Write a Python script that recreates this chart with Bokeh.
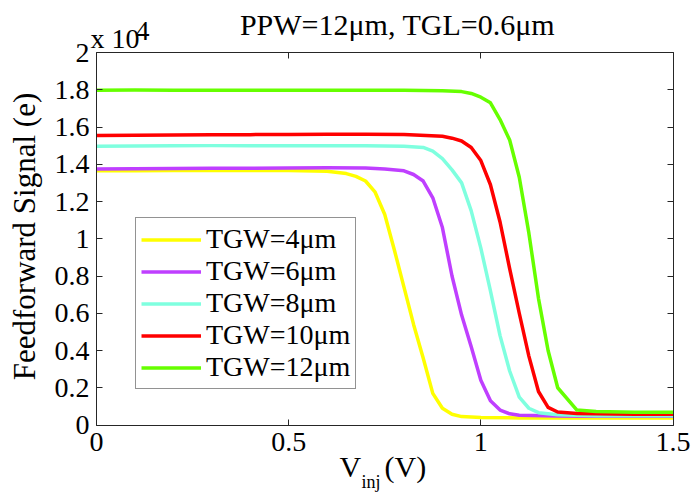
import math
from bokeh.plotting import figure
from bokeh.models import Range1d, LinearAxis, FixedTicker, Label, Legend, LegendItem
from bokeh.embed import file_html
from bokeh.resources import INLINE

# ---------------- data (values in units of 10^4 e) ----------------
title_text = "PPW=12\u03bcm, TGL=0.6\u03bcm"
x_label_main = "V"
x_label_sub = "inj"
x_label_unit = "(V)"
y_label = "Feedforward Signal (e)"
multiplier_base = "x 10"
multiplier_exp = "4"

x_lim = (0, 1.5)
y_lim = (0, 2)
x_ticks = [0, 0.5, 1, 1.5]
x_tick_labels = ["0", "0.5", "1", "1.5"]
y_ticks = [0, 0.2, 0.4, 0.6, 0.8, 1, 1.2, 1.4, 1.6, 1.8, 2]
y_tick_labels = ["0", "0.2", "0.4", "0.6", "0.8", "1", "1.2", "1.4", "1.6", "1.8", "2"]

series_names = ["TGW=4\u03bcm", "TGW=6\u03bcm", "TGW=8\u03bcm", "TGW=10\u03bcm", "TGW=12\u03bcm"]
series_colors = ["#ffff00", "#bf3fff", "#7fffdf", "#ff0000", "#66ff00"]

tgw4_x = [0, 0.1, 0.2, 0.3, 0.4, 0.5, 0.6, 0.65, 0.675, 0.7, 0.725, 0.75, 0.775, 0.8,
          0.825, 0.85, 0.875, 0.9, 0.925, 0.95, 1.0, 1.1, 1.2, 1.3, 1.4, 1.5]
tgw4_y = [1.365, 1.365, 1.366, 1.366, 1.366, 1.366, 1.362, 1.35, 1.335, 1.31, 1.25, 1.13,
          0.94, 0.74, 0.54, 0.36, 0.17, 0.09, 0.058, 0.045, 0.04, 0.038, 0.038, 0.038, 0.038, 0.038]

tgw6_x = [0, 0.1, 0.2, 0.3, 0.4, 0.5, 0.6, 0.7, 0.75, 0.8, 0.825, 0.85, 0.875, 0.9, 0.925,
          0.95, 0.975, 1.0, 1.025, 1.05, 1.075, 1.1, 1.2, 1.3, 1.4, 1.5]
tgw6_y = [1.375, 1.376, 1.377, 1.378, 1.379, 1.38, 1.381, 1.38, 1.375, 1.365, 1.345, 1.31,
          1.22, 1.06, 0.80, 0.59, 0.42, 0.24, 0.13, 0.08, 0.06, 0.052, 0.048, 0.047, 0.047, 0.047]

tgw8_x = [0, 0.1, 0.2, 0.3, 0.4, 0.5, 0.6, 0.7, 0.8, 0.85, 0.875, 0.9, 0.925, 0.95, 0.975,
          1.0, 1.025, 1.05, 1.075, 1.1, 1.125, 1.15, 1.2, 1.3, 1.4, 1.5]
tgw8_y = [1.497, 1.498, 1.499, 1.5, 1.5, 1.5, 1.5, 1.5, 1.497, 1.49, 1.47, 1.43, 1.37, 1.30,
          1.15, 0.95, 0.72, 0.48, 0.29, 0.15, 0.09, 0.066, 0.055, 0.05, 0.05, 0.05]

tgw10_x = [0, 0.1, 0.2, 0.3, 0.4, 0.5, 0.6, 0.7, 0.8, 0.9, 0.925, 0.95, 0.975, 1.0, 1.025,
           1.05, 1.075, 1.1, 1.125, 1.15, 1.175, 1.2, 1.25, 1.3, 1.4, 1.5]
tgw10_y = [1.555, 1.556, 1.557, 1.558, 1.559, 1.56, 1.561, 1.561, 1.56, 1.55, 1.54, 1.525,
           1.49, 1.42, 1.29, 1.09, 0.84, 0.60, 0.37, 0.18, 0.095, 0.07, 0.062, 0.06, 0.058, 0.058]

tgw12_x = [0, 0.1, 0.2, 0.3, 0.4, 0.5, 0.6, 0.7, 0.8, 0.9, 0.95, 0.975, 1.0, 1.025, 1.05,
           1.075, 1.1, 1.125, 1.15, 1.175, 1.2, 1.25, 1.3, 1.4, 1.5]
tgw12_y = [1.797, 1.798, 1.797, 1.797, 1.797, 1.797, 1.797, 1.797, 1.797, 1.795, 1.79, 1.78,
           1.76, 1.73, 1.64, 1.53, 1.33, 1.03, 0.68, 0.40, 0.20, 0.08, 0.072, 0.069, 0.069]

series_x = [tgw4_x, tgw6_x, tgw8_x, tgw10_x, tgw12_x]
series_y = [tgw4_y, tgw6_y, tgw8_y, tgw10_y, tgw12_y]

# ---------------- layout ----------------
# The Bokeh frame fills the whole canvas; the axes box is drawn with fixed-location
# axes so that texts around it are not clipped.
W, H = 698, 493
BOX_L, BOX_R, BOX_T, BOX_B = 96, 672.5, 52, 424.5   # axes box edges in canvas px
sx = (BOX_R - BOX_L) / (x_lim[1] - x_lim[0])
sy = (BOX_B - BOX_T) / (y_lim[1] - y_lim[0])
x_range = Range1d(x_lim[0] - BOX_L / sx, x_lim[1] + (W - BOX_R) / sx)
y_range = Range1d(y_lim[0] - (H - BOX_B) / sy, y_lim[1] + BOX_T / sy)

SERIF = "Liberation Serif, DejaVu Serif, serif"
TICK_FS = "28px"
AX_COLOR = "#262626"

p = figure(width=W, height=H, output_backend="svg", toolbar_location=None,
           x_range=x_range, y_range=y_range,
           min_border=0, min_border_left=0, min_border_right=0,
           min_border_top=0, min_border_bottom=0,
           x_axis_location=None, y_axis_location=None)
p.background_fill_color = "white"
p.border_fill_color = "white"
p.outline_line_color = None
p.xgrid.visible = False
p.ygrid.visible = False

def make_axis(ticks, labels, loc, bounds, show_labels):
    kw = {}
    if show_labels:
        kw["major_label_overrides"] = {t: s for t, s in zip(ticks, labels)}
    ax = LinearAxis(ticker=FixedTicker(ticks=ticks), fixed_location=loc, bounds=bounds, **kw)
    ax.axis_line_color = AX_COLOR
    ax.axis_line_width = 1
    ax.major_tick_in = 6
    ax.major_tick_out = 0
    ax.major_tick_line_color = AX_COLOR
    ax.minor_tick_line_color = None
    ax.major_label_text_font = SERIF
    ax.major_label_text_font_size = TICK_FS
    ax.major_label_text_color = "black" if show_labels else None
    return ax

xb = make_axis(x_ticks, x_tick_labels, y_lim[0], x_lim, True)
xb.major_label_standoff = 8
p.add_layout(xb, "below")

xt = make_axis(x_ticks, None, y_lim[1], x_lim, False)
p.add_layout(xt, "above")

yl = make_axis(y_ticks, y_tick_labels, x_lim[0], y_lim, True)
yl.major_label_standoff = 7
p.add_layout(yl, "left")

yr = make_axis(y_ticks, None, x_lim[1], y_lim, False)
p.add_layout(yr, "right")

items = []
for name, color, xs, ys in zip(series_names, series_colors, series_x, series_y):
    r = p.line(xs, ys, line_color=color, line_width=3.5, line_join="round")
    items.append(LegendItem(label=name, renderers=[r]))

legend = Legend(items=items, location=(135, H - 389), orientation="vertical",
                padding=5, spacing=0, margin=0,
                label_height=31, glyph_height=31, glyph_width=60, label_standoff=5,
                label_text_font=SERIF, label_text_font_size="28px",
                label_text_line_height=1.0,
                label_text_color="black",
                border_line_color=AX_COLOR, border_line_width=1,
                background_fill_color="white", background_fill_alpha=1.0)
p.add_layout(legend, "center")

def add_text(text, px, py, size, align="left", baseline="alphabetic", angle=0.0):
    # px, py in canvas pixels measured from the top-left corner
    lab = Label(x=px, y=H - py, x_units="screen", y_units="screen", angle=angle,
                text=text, text_font=SERIF, text_font_size=size,
                text_color="black", text_align=align, text_baseline=baseline)
    p.add_layout(lab)

add_text(title_text, 397, 24, "30px", align="center")
add_text(multiplier_base, 90, 38, TICK_FS)
add_text(multiplier_exp, 135, 30, TICK_FS)
add_text(x_label_main, 339, 466, "30px")
add_text(x_label_sub, 361, 481, "18px")
add_text(x_label_unit, 384, 466, "30px")
add_text(y_label, 24, 236, "31px", align="center", baseline="middle", angle=math.pi / 2)

html = file_html(p, INLINE)
open("out.html", "w").write(html)
